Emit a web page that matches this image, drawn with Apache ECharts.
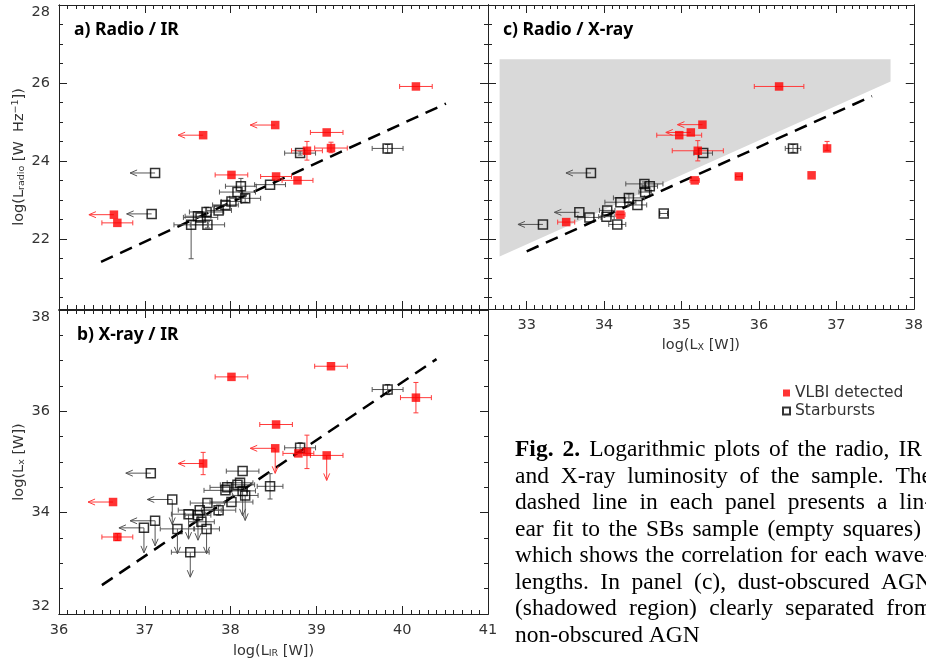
<!DOCTYPE html>
<html>
<head>
<meta charset="utf-8">
<script src="https://cdn.jsdelivr.net/npm/echarts@6.0.0/dist/echarts.min.js"></script>
<style>
  html, body { margin: 0; padding: 0; background: #fff; }
  #main { width: 926px; height: 661px; }
</style>
</head>
<body>
<div id="main"></div>
<script>
// columns: x, y, x error, y error (low), y error (high), x upper limit, y upper limit
var radioIrAgn = [
  [40.16, 25.91, 0.19, 0, 0, 0, 0],
  [38.52, 24.92, 0, 0, 0, 1, 0],
  [37.68, 24.66, 0, 0, 0, 1, 0],
  [39.12, 24.73, 0.19, 0, 0, 0, 0],
  [39.17, 24.33, 0.19, 0.12, 0.15, 0, 0],
  [38.89, 24.26, 0.18, 0.24, 0.24, 0, 0],
  [38.01, 23.64, 0.19, 0, 0, 0, 0],
  [38.53, 23.60, 0.18, 0, 0, 0, 0],
  [38.78, 23.50, 0.18, 0, 0, 0, 0],
  [36.64, 22.62, 0, 0, 0, 1, 0],
  [36.68, 22.41, 0.18, 0, 0, 0, 0]
];
var radioIrSb = [
  [39.83, 24.32, 0.18, 0.12, 0.10, 0, 0],
  [38.81, 24.20, 0.18, 0.05, 0.05, 0, 0],
  [38.46, 23.39, 0.18, 0, 0, 0, 0],
  [38.12, 23.35, 0.18, 0.15, 0.20, 0, 0],
  [38.08, 23.20, 0.21, 0, 0, 0, 0],
  [38.17, 23.04, 0.18, 0.10, 0.10, 0, 0],
  [38.01, 22.96, 0.12, 0, 0, 0, 0],
  [37.94, 22.87, 0.15, 0, 0, 0, 0],
  [37.86, 22.73, 0.15, 0, 0, 0, 0],
  [37.72, 22.69, 0.20, 0.12, 0.12, 0, 0],
  [37.65, 22.55, 0.20, 0, 0, 0, 0],
  [37.62, 22.58, 0.15, 0, 0, 0, 0],
  [37.54, 22.36, 0.20, 0.87, 0.10, 0, 0],
  [37.73, 22.36, 0.20, 0.08, 0.08, 0, 0],
  [37.12, 23.69, 0, 0, 0, 1, 0],
  [37.08, 22.64, 0, 0, 0, 1, 0]
];

var xrayIrAgn = [
  [38.01, 36.68, 0.19, 0, 0, 0, 0],
  [39.17, 36.89, 0.19, 0, 0, 0, 0],
  [40.16, 36.27, 0.18, 0.30, 0.30, 0, 0],
  [38.53, 35.74, 0.19, 0, 0, 0, 0],
  [38.52, 35.27, 0, 0, 0, 1, 1],
  [38.89, 35.20, 0, 0.33, 0.33, 0, 0],
  [38.79, 35.17, 0.18, 0, 0, 0, 0],
  [39.12, 35.13, 0.19, 0, 0, 0, 1],
  [37.68, 34.97, 0, 0.22, 0.22, 1, 0],
  [36.63, 34.21, 0, 0, 0, 1, 0],
  [36.68, 33.52, 0.18, 0.07, 0.07, 0, 0]
];
var xrayIrSb = [
  [39.83, 36.43, 0.18, 0.10, 0.10, 0, 0],
  [38.81, 35.28, 0.18, 0.10, 0.10, 0, 0],
  [37.07, 34.78, 0, 0, 0, 1, 0],
  [38.14, 34.82, 0.19, 0, 0, 0, 0],
  [38.46, 34.52, 0.15, 0.25, 0.25, 0, 0],
  [38.11, 34.59, 0.15, 0, 0, 0, 0],
  [38.08, 34.55, 0.20, 0, 0, 0, 0],
  [37.96, 34.50, 0.20, 0, 0, 0, 0],
  [37.94, 34.44, 0.25, 0, 0, 0, 0],
  [38.14, 34.43, 0.15, 0, 0, 0, 1],
  [38.17, 34.34, 0.15, 0, 0, 0, 1],
  [38.01, 34.21, 0.25, 0, 0, 0, 0],
  [37.73, 34.19, 0.20, 0, 0, 0, 0],
  [37.86, 34.05, 0.20, 0.10, 0.10, 0, 0],
  [37.64, 34.05, 0.25, 0, 0, 0, 0],
  [37.51, 33.97, 0.20, 0, 0, 0, 1],
  [37.62, 33.95, 0.15, 0, 0, 0, 1],
  [37.32, 34.26, 0, 0, 0, 1, 1],
  [37.12, 33.84, 0, 0, 0, 1, 1],
  [36.99, 33.70, 0, 0, 0, 1, 1],
  [37.38, 33.68, 0.20, 0, 0, 0, 1],
  [37.66, 33.82, 0.15, 0, 0, 0, 0],
  [37.72, 33.68, 0.15, 0, 0, 0, 1],
  [37.53, 33.22, 0.22, 0, 0, 0, 1]
];

var radioXrayAgn = [
  [36.26, 25.91, 0.32, 0, 0, 0, 0],
  [35.27, 24.93, 0, 0, 0, 1, 0],
  [35.12, 24.73, 0, 0, 0, 1, 0],
  [34.97, 24.66, 0.29, 0, 0, 0, 0],
  [35.21, 24.26, 0.33, 0.26, 0.26, 0, 0],
  [35.17, 23.50, 0.06, 0, 0, 0, 0],
  [35.74, 23.60, 0.04, 0, 0, 0, 0],
  [36.68, 23.63, 0, 0, 0, 0, 0],
  [36.88, 24.32, 0, 0.05, 0.18, 0, 0],
  [34.21, 22.62, 0.06, 0, 0, 0, 0],
  [33.51, 22.43, 0.11, 0, 0, 0, 0]
];
var radioXraySb = [
  [33.83, 23.69, 0, 0, 0, 1, 0],
  [33.68, 22.68, 0, 0, 0, 1, 0],
  [33.21, 22.37, 0, 0, 0, 1, 0],
  [33.81, 22.55, 0.15, 0, 0, 0, 0],
  [34.04, 22.73, 0.10, 0, 0, 0, 0],
  [34.03, 22.57, 0.10, 0, 0, 0, 0],
  [34.17, 22.37, 0.11, 0, 0, 0, 0],
  [34.21, 22.94, 0.20, 0, 0, 0, 0],
  [34.32, 23.05, 0.20, 0.10, 0.10, 0, 0],
  [34.43, 22.87, 0.12, 0, 0, 0, 0],
  [34.52, 23.41, 0.24, 0.05, 0.05, 0, 0],
  [34.59, 23.35, 0.10, 0, 0, 0, 0],
  [34.53, 23.20, 0.08, 0, 0, 0, 0],
  [35.28, 24.20, 0.12, 0, 0, 0, 0],
  [34.77, 22.65, 0.05, 0, 0, 0, 0],
  [36.44, 24.32, 0.10, 0.10, 0.10, 0, 0]
];

// linear fits to the starburst sample
var fitRadioIr = [[36.49, 21.41], [40.51, 25.47]];
var fitXrayIr = [[36.50, 32.57], [40.40, 37.03]];
var fitRadioXray = [[33.00, 21.68], [37.46, 25.66]];
// dust-obscured AGN region (panel c)
var obscuredZone = [[32.65, 26.61], [37.70, 26.61], [37.70, 26.04], [32.65, 21.55]];

var irTicks = [36, 37, 38, 39, 40, 41];
var lxTicks = [33, 34, 35, 36, 37, 38];
var radioTicks = [22, 24, 26, 28];
var xrayTicks = [32, 34, 36, 38];

var captionLines = [
  'Fig. 2. Logarithmic plots of the radio, IR',
  'and X-ray luminosity of the sample. The',
  'dashed line in each panel presents a lin-',
  'ear fit to the SBs sample (empty squares)',
  'which shows the correlation for each wave-',
  'lengths. In panel (c), dust-obscured AGN',
  '(shadowed region) clearly separated from',
  'non-obscured AGN'
];
var captionRight = [922, 932, 932, 921, 932, 932, 932, 0];

var AXIS = '#222';
var LABEL = '#333';
var FONT = 'DejaVu Sans';

function steps(min, max, step, skip) {
  var out = [];
  for (var i = Math.ceil(min / step - 1e-9); i * step <= max + 1e-9; i++) {
    var v = Math.round(i * step * 100) / 100;
    if (skip.indexOf(v) < 0) out.push(v);
  }
  return out;
}

var subRich = {
  s: { fontSize: 9.5, fontFamily: FONT, color: LABEL, verticalAlign: 'bottom', padding: [6, 0, 0, 0] },
  p: { fontSize: 9.5, fontFamily: FONT, color: LABEL, verticalAlign: 'top', padding: [0, 0, 6, 0] }
};

// one major and one minor axis on a given side of a grid
function axisPair(grid, min, max, majors, step, side, opts) {
  opts = opts || {};
  var base = {
    type: 'value', gridIndex: grid, min: min, max: max, position: side,
    axisLine: { show: true, onZero: false, lineStyle: { color: AXIS, width: 1 } },
    splitLine: { show: false }
  };
  var major = Object.assign({}, base, {
    axisTick: { show: true, inside: true, length: 8, customValues: majors, lineStyle: { color: AXIS } },
    axisLabel: Object.assign({
      show: !!opts.labels, customValues: majors, color: LABEL,
      fontFamily: FONT, fontSize: 14.5, margin: 9
    }, opts.label || {})
  });
  if (opts.name) {
    major.name = opts.name;
    major.nameLocation = 'middle';
    major.nameGap = opts.nameGap;
    major.nameRotate = opts.nameRotate || 0;
    major.nameTextStyle = { color: LABEL, fontFamily: FONT, fontSize: 14.5, rich: subRich };
  }
  var minor = Object.assign({}, base, {
    axisTick: { show: true, inside: true, length: 4, customValues: steps(min, max, step, majors), lineStyle: { color: AXIS } },
    axisLabel: { show: false }
  });
  return [major, minor];
}

var xAxes = [].concat(
  axisPair(0, 36, 41, irTicks, 0.1, 'bottom'),
  axisPair(0, 36, 41, irTicks, 0.1, 'top'),
  axisPair(1, 36, 41, irTicks, 0.1, 'bottom', { labels: true, name: 'log(L{s|IR} [W])', nameGap: 29 }),
  axisPair(1, 36, 41, irTicks, 0.1, 'top'),
  axisPair(2, 32.5, 38, lxTicks, 0.1, 'bottom', { labels: true, name: 'log(L{s|X} [W])', nameGap: 28 }),
  axisPair(2, 32.5, 38, lxTicks, 0.1, 'top')
);
var yAxes = [].concat(
  axisPair(0, 20.2, 28, radioTicks, 0.5, 'left', {
    labels: true, label: { verticalAlignMaxLabel: 'top' },
    name: 'log(L{s|radio} [W  Hz{p|\u22121}])', nameGap: 32, nameRotate: 90
  }),
  axisPair(0, 20.2, 28, radioTicks, 0.5, 'right'),
  axisPair(1, 32, 38, xrayTicks, 0.5, 'left', {
    labels: true, label: { verticalAlignMaxLabel: 'top', verticalAlignMinLabel: 'bottom' },
    name: 'log(L{s|x} [W])', nameGap: 32, nameRotate: 90
  }),
  axisPair(1, 32, 38, xrayTicks, 0.5, 'right'),
  axisPair(2, 20.2, 28, radioTicks, 0.5, 'left'),
  axisPair(2, 20.2, 28, radioTicks, 0.5, 'right')
);

function errorBars(color) {
  return function (params, api) {
    var x = api.value(0), y = api.value(1);
    var xe = api.value(2), ylo = api.value(3), yhi = api.value(4);
    var c = api.coord([x, y]);
    var kids = [];
    var st = { stroke: color, lineWidth: 1 };
    function seg(x1, y1, x2, y2) {
      kids.push({ type: 'line', shape: { x1: x1, y1: y1, x2: x2, y2: y2 }, style: st });
    }
    if (xe > 0) {
      var a = api.coord([x - xe, y]), b = api.coord([x + xe, y]);
      seg(a[0], c[1], b[0], c[1]);
      seg(a[0], c[1] - 2.5, a[0], c[1] + 2.5);
      seg(b[0], c[1] - 2.5, b[0], c[1] + 2.5);
    }
    if (ylo > 0 || yhi > 0) {
      var lo = api.coord([x, y - ylo]), hi = api.coord([x, y + yhi]);
      seg(c[0], lo[1], c[0], hi[1]);
      seg(c[0] - 2.5, lo[1], c[0] + 2.5, lo[1]);
      seg(c[0] - 2.5, hi[1], c[0] + 2.5, hi[1]);
    }
    if (api.value(5)) {
      seg(c[0], c[1], c[0] - 25, c[1]);
      seg(c[0] - 25, c[1], c[0] - 18, c[1] - 3);
      seg(c[0] - 25, c[1], c[0] - 18, c[1] + 3);
    }
    if (api.value(6)) {
      seg(c[0], c[1], c[0], c[1] + 25);
      seg(c[0], c[1] + 25, c[0] - 3, c[1] + 18);
      seg(c[0], c[1] + 25, c[0] + 3, c[1] + 18);
    }
    return { type: 'group', children: kids };
  };
}

function panelSeries(grid, agn, sb, fit) {
  var xi = grid * 4, yi = grid * 4;
  return [
    {
      type: 'line', xAxisIndex: xi, yAxisIndex: yi, data: fit, symbol: 'none', z: 3,
      lineStyle: { color: '#000', width: 2.5, type: [13, 8] }, silent: true
    },
    {
      type: 'custom', xAxisIndex: xi, yAxisIndex: yi, data: sb, renderItem: errorBars('#555'),
      encode: { x: 0, y: 1 }, z: 4, silent: true
    },
    {
      type: 'custom', xAxisIndex: xi, yAxisIndex: yi, data: agn, renderItem: errorBars('#ff3b3b'),
      encode: { x: 0, y: 1 }, z: 4, silent: true
    },
    {
      name: 'Starbursts', type: 'scatter', xAxisIndex: xi, yAxisIndex: yi, data: sb,
      symbol: 'rect', symbolSize: 9, z: 5,
      itemStyle: { color: 'rgba(255,255,255,0)', borderColor: '#000', borderWidth: 1.5 }
    },
    {
      name: 'VLBI detected', type: 'scatter', xAxisIndex: xi, yAxisIndex: yi, data: agn,
      symbol: 'rect', symbolSize: 8.5, z: 6, itemStyle: { color: '#ff0000' }
    }
  ];
}

var shadeSeries = {
  type: 'custom', xAxisIndex: 8, yAxisIndex: 8, data: obscuredZone, z: 1, silent: true,
  encode: { x: 0, y: 1 },
  renderItem: function (params, api) {
    if (params.dataIndex !== 0) return;
    return {
      type: 'polygon',
      shape: { points: obscuredZone.map(function (p) { return api.coord(p); }) },
      style: { fill: '#d9d9d9' }
    };
  }
};

// justified caption, laid out word by word
var CAP_SIZE = 23.5;
var CAP_LEFT = 515;
var CAP_TOP = 450;
var CAP_STEP = 26.5;
var measureCtx = document.createElement('canvas').getContext('2d');
function textWidth(t, bold) {
  measureCtx.font = (bold ? 'bold ' : '') + CAP_SIZE + 'px "Liberation Serif"';
  return measureCtx.measureText(t).width;
}
var captionGraphics = [];
captionLines.forEach(function (line, li) {
  var words = line.split(' ');
  var bolds = words.map(function (w, wi) { return li === 0 && wi < 2; });
  var widths = words.map(function (w, wi) { return textWidth(w, bolds[wi]); });
  var total = widths.reduce(function (s, w) { return s + w; }, 0);
  var gap = captionRight[li] ? (captionRight[li] - CAP_LEFT - total) / (words.length - 1) : textWidth(' ', false);
  var x = CAP_LEFT;
  words.forEach(function (w, wi) {
    captionGraphics.push({
      type: 'text', x: x, y: CAP_TOP + li * CAP_STEP, silent: true,
      style: {
        text: w, fill: '#000', fontFamily: 'Liberation Serif', fontSize: CAP_SIZE,
        fontWeight: bolds[wi] ? 'bold' : 'normal', verticalAlign: 'middle'
      }
    });
    x += widths[wi] + gap;
  });
});

function panelTitle(text, x, y) {
  return {
    type: 'text', x: x, y: y, silent: true,
    style: { text: text, fill: '#000', fontFamily: 'Noto Sans', fontSize: 17.5, fontWeight: 'bold', verticalAlign: 'middle' }
  };
}

var chart = echarts.init(document.getElementById('main'));
chart.setOption({
  animation: false,
  backgroundColor: '#fff',
  textStyle: { fontFamily: FONT },
  grid: [
    { left: 59, top: 5, width: 429, height: 304 },
    { left: 59, top: 310, width: 429, height: 304 },
    { left: 488, top: 5, width: 428, height: 304 }
  ],
  xAxis: xAxes,
  yAxis: yAxes,
  legend: {
    data: ['VLBI detected', 'Starbursts'], orient: 'vertical', left: 777, top: 380,
    icon: 'rect', itemWidth: 7, itemHeight: 7, itemGap: 2, selectedMode: false,
    textStyle: { color: LABEL, fontFamily: FONT, fontSize: 15.5 }
  },
  graphic: [
    panelTitle('a) Radio / IR', 74, 30),
    panelTitle('b) X-ray / IR', 77, 335),
    panelTitle('c) Radio / X-ray', 503, 30)
  ].concat(captionGraphics),
  series: [shadeSeries].concat(
    panelSeries(0, radioIrAgn, radioIrSb, fitRadioIr),
    panelSeries(1, xrayIrAgn, xrayIrSb, fitXrayIr),
    panelSeries(2, radioXrayAgn, radioXraySb, fitRadioXray)
  )
});
</script>
</body>
</html>
